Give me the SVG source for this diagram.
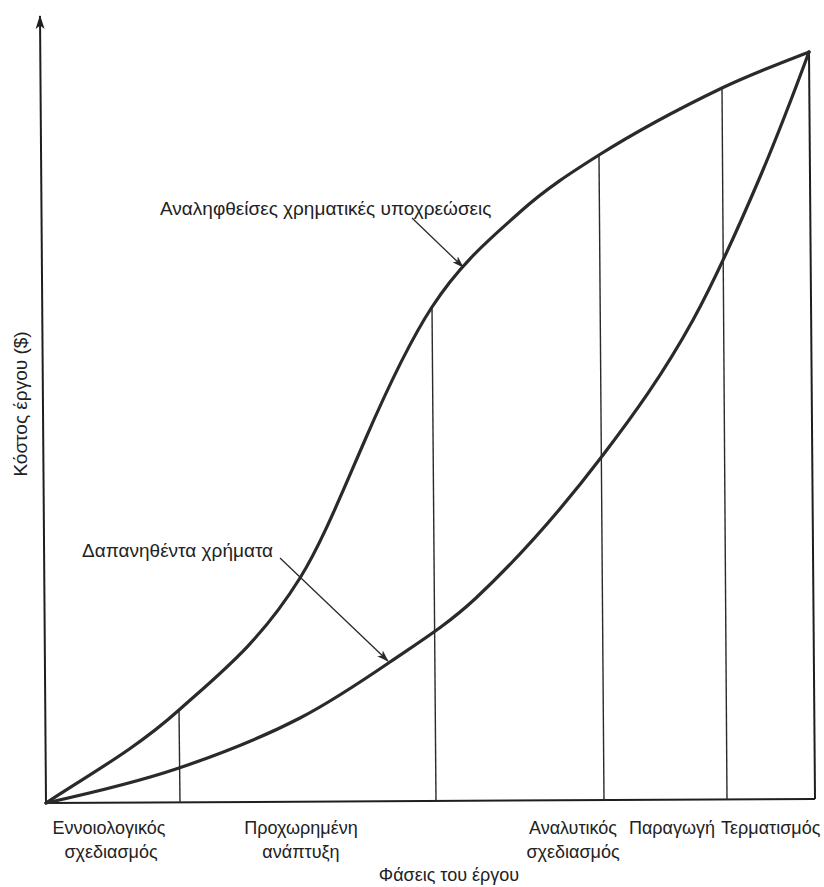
<svg xmlns="http://www.w3.org/2000/svg" width="824" height="887" viewBox="0 0 824 887">
  <style>
    .axis { stroke: #1e1e1e; stroke-width: 2; fill: none; }
    .curve { stroke: #2a2a2a; stroke-width: 3.2; fill: none; stroke-linecap: round; }
    .phase { stroke: #2a2a2a; stroke-width: 1.4; fill: none; }
    .pointer { stroke: #2a2a2a; stroke-width: 1.3; fill: none; }
    .lbl { font-family: "Liberation Sans", "DejaVu Sans", sans-serif; font-size: 19px; fill: #222; }
    .tick { font-size: 18px; }
    .mid { text-anchor: middle; }
  </style>
  <defs>
    <!-- barbed head for the vertical axis, drawn pointing along +x -->
    <marker id="axisHead" viewBox="0 0 14 10" refX="13" refY="5" markerWidth="14" markerHeight="10" markerUnits="userSpaceOnUse" orient="auto">
      <path d="M14,5 L0,0.5 L3.5,5 L0,9.5 Z" fill="#1e1e1e"/>
    </marker>
    <marker id="tip" viewBox="0 0 12 8" refX="11" refY="4" markerWidth="12" markerHeight="8" markerUnits="userSpaceOnUse" orient="auto">
      <path d="M0,0 L12,4 L0,8 L3,4 Z" fill="#2a2a2a"/>
    </marker>
  </defs>
  <rect width="824" height="887" fill="#ffffff"/>

  <!-- axes and closing edge -->
  <g id="axes">
    <line class="axis" x1="46" y1="803" x2="40" y2="16" marker-end="url(#axisHead)"/>
    <line class="axis" x1="46" y1="803" x2="815" y2="799"/>
    <line class="axis" x1="815" y1="799" x2="809" y2="52"/>
  </g>

  <!-- phase boundaries -->
  <g id="phase-lines">
    <line class="phase" x1="179" y1="710" x2="180" y2="803"/>
    <line class="phase" x1="432" y1="307" x2="436" y2="802"/>
    <line class="phase" x1="599" y1="155" x2="604" y2="801"/>
    <line class="phase" x1="722" y1="88" x2="727" y2="800"/>
  </g>

  <!-- committed funds -->
  <g id="committed-curve">
    <path class="curve" d="M46,803 C90.3,773.7 134.7,749.7 179,710 C219.3,673.9 259.7,642.8 300,578 C321.7,543.2 343.3,489.8 365,440 C387.3,388.6 409.7,341.2 432,307 C461.3,262.1 490.7,238.4 520,212 C546.3,188.3 572.7,171.6 599,155 C640,129.2 681,107.7 722,88 C751,74.1 780,63.3 809,52"/>
  </g>

  <!-- spent funds -->
  <g id="spent-curve">
    <path class="curve" d="M46,803 C90.3,793.2 134.7,783 179,768 C219.3,754.4 259.7,738.9 300,718 C330,702.5 360,682.5 390,662 C418.7,642.4 447.3,624.8 476,598 C518.3,558.4 560.7,510.6 603,455 C633,415.6 663,374.5 693,320 C715.3,279.4 737.7,229.3 760,177 C776.3,138.7 792.7,96.1 809,52"/>
  </g>

  <!-- label pointers -->
  <g id="connectors">
    <line class="pointer" x1="412" y1="218" x2="463" y2="267" marker-end="url(#tip)"/>
    <line class="pointer" x1="280" y1="558" x2="388" y2="661" marker-end="url(#tip)"/>
  </g>

  <g id="label-committed">
    <text class="lbl" x="160" y="215">Αναληφθείσες χρηματικές υποχρεώσεις</text>
  </g>
  <g id="label-spent">
    <text class="lbl" x="82" y="557">Δαπανηθέντα χρήματα</text>
  </g>

  <g id="y-title">
    <text class="lbl mid" transform="translate(27,404) rotate(-90)">Κόστος έργου ($)</text>
  </g>

  <g id="phase-labels">
    <text class="lbl tick mid" x="109" y="834">Εννοιολογικός</text>
    <text class="lbl tick mid" x="111" y="858">σχεδιασμός</text>
    <text class="lbl tick mid" x="301" y="834">Προχωρημένη</text>
    <text class="lbl tick mid" x="301" y="858">ανάπτυξη</text>
    <text class="lbl tick mid" x="573" y="834">Αναλυτικός</text>
    <text class="lbl tick mid" x="573" y="858">σχεδιασμός</text>
    <text class="lbl tick mid" x="672" y="834">Παραγωγή</text>
    <text class="lbl tick" x="721" y="834">Τερματισμός</text>
  </g>

  <g id="x-title">
    <text class="lbl tick mid" x="449" y="881">Φάσεις του έργου</text>
  </g>
</svg>
